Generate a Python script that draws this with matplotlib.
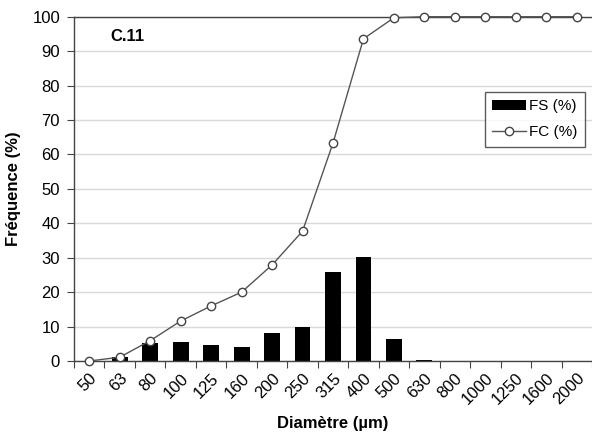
import matplotlib
matplotlib.use("Agg")
import matplotlib.pyplot as plt
import numpy as np

plt.rcParams['font.family'] = ['Liberation Sans', 'DejaVu Sans']

diametres = ["50", "63", "80", "100", "125", "160", "200", "250", "315", "400",
             "500", "630", "800", "1000", "1250", "1600", "2000"]
fs = [0.0, 1.2, 5.2, 5.6, 4.6, 4.0, 8.0, 9.9, 25.8, 30.2, 6.3, 0.3, 0.0, 0.0, 0.0, 0.0, 0.0]
fc = [0.0, 1.1, 5.9, 11.6, 16.0, 20.0, 27.9, 37.7, 63.3, 93.6, 99.7, 100.0, 100.0, 100.0, 100.0, 100.0, 100.0]
y_ticks = list(range(0, 101, 10))

fig = plt.figure(figsize=(5.92, 4.47), dpi=100)
ax = fig.add_axes([0.125, 0.1924, 0.875, 0.7702])

x = np.arange(len(diametres))
bars = ax.bar(x, fs, width=0.52, color="black", label="FS (%)", zorder=2)
line, = ax.plot(x, fc, color="#555555", lw=1.0, marker="o", markersize=6,
                markerfacecolor="white", markeredgecolor="#444444", markeredgewidth=1.0,
                label="FC (%)", zorder=3, clip_on=False)

ax.set_xlim(-0.5, len(diametres) - 0.5)
ax.set_ylim(0, 100)
ax.set_yticks(y_ticks)
ax.yaxis.grid(True, color="#d9d9d9", lw=1.0, zorder=0)
ax.set_axisbelow(True)

# x ticks sit between categories, labels at the category centres
ax.set_xticks(np.arange(len(diametres) + 1) - 0.5)
ax.set_xticklabels([])
ax.set_xticks(x, minor=True)
ax.set_xticklabels(diametres, minor=True, rotation=45, ha="right",
                   rotation_mode="anchor", fontsize=12)
ax.tick_params(axis="x", which="minor", length=0, pad=7)
ax.tick_params(axis="x", which="major", length=5, color="#444444", direction="out")
ax.tick_params(axis="y", length=5, color="#444444", labelsize=12, pad=5)

for side in ("left", "bottom", "top"):
    ax.spines[side].set_color("#444444")
    ax.spines[side].set_linewidth(1.0)
ax.spines["right"].set_visible(False)

ax.set_xlabel("Diamètre (µm)", fontsize=12, fontweight="bold", labelpad=6)
ax.set_ylabel("Fréquence (%)", fontsize=12, fontweight="bold", labelpad=8)

ax.text(0.68, 96.3, "C.11", fontsize=12, fontweight="bold", va="top", ha="left")

leg = ax.legend([bars, line], ["FS (%)", "FC (%)"], loc="upper right",
                bbox_to_anchor=(0.9865, 0.782), fontsize=11,
                frameon=True, fancybox=False, edgecolor="#333333",
                handlelength=2.2, borderpad=0.5, labelspacing=0.75,
                handletextpad=0.2, borderaxespad=0.0)
leg.get_frame().set_linewidth(1.0)

fig.savefig("out.png", dpi=100)
